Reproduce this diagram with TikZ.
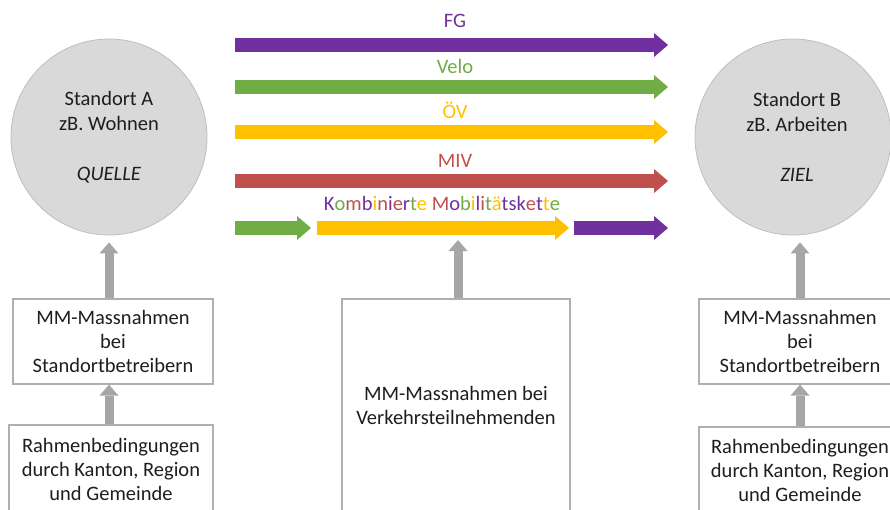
\documentclass[tikz,border=0pt]{standalone}
\usepackage{fontspec}
\setmainfont{Carlito}
\usetikzlibrary{arrows.meta}

\definecolor{fgpurple}{HTML}{7030A0}
\definecolor{velogreen}{HTML}{70AD47}
\definecolor{ovyellow}{HTML}{FFC000}
\definecolor{mivred}{HTML}{C0504D}
\definecolor{placegray}{HTML}{D9D9D9}
\definecolor{rimgray}{HTML}{BFBFBF}
\definecolor{liftgray}{HTML}{A6A6A6}
\definecolor{boxgray}{HTML}{AFAFAF}
\definecolor{inkgray}{HTML}{1E1E1E}

% one colour per letter of the combined-chain label
\newcommand\lP[1]{\textcolor{fgpurple}{#1}}
\newcommand\lG[1]{\textcolor{velogreen}{#1}}
\newcommand\lR[1]{\textcolor{mivred}{#1}}
\newcommand\lY[1]{\textcolor{ovyellow}{#1}}

\begin{document}
\begin{tikzpicture}[x=1pt,y=-1pt,
  place/.style={circle, fill=placegray, draw=rimgray, line width=0.8pt,
    minimum size=196pt, inner sep=0pt, align=center, text=inkgray,
    font=\fontsize{20.5}{25}\selectfont},
  measure/.style={rectangle, draw=boxgray, line width=1.2pt, fill=white,
    inner sep=0pt, align=center, text=inkgray,
    font=\fontsize{20.5}{24}\selectfont},
  mode/.style={line width=14pt,
    -{Triangle[width=24pt,length=14pt,line width=0pt]}},
  lift/.style={draw=liftgray, line width=9pt,
    -{Triangle[width=19pt,length=11pt,line width=0pt]}},
  modelabel/.style={anchor=base, font=\fontsize{20.5}{24}\selectfont}]

\useasboundingbox (0,0) rectangle (890,509);

% origin and destination
\node[place] (A) at (109,137) {Standort A\\zB. Wohnen\\[25pt]\textit{QUELLE}};
\node[place] (B) at (793,137) {\hspace*{8pt}Standort B\\\hspace*{8pt}zB. Arbeiten\\[25pt]\hspace*{8pt}\textit{ZIEL}};

% mode arrows between the two places
\coordinate (fgS)  at (235,45);  \coordinate (fgE)  at (668,45);
\coordinate (veS)  at (235,87);  \coordinate (veE)  at (668,87);
\coordinate (ovS)  at (235,132); \coordinate (ovE)  at (668,132);
\coordinate (miS)  at (235,181); \coordinate (miE)  at (668,181);
\coordinate (k1S)  at (235,228); \coordinate (k1E)  at (311,228);
\coordinate (k2S)  at (317,228); \coordinate (k2E)  at (569,228);
\coordinate (k3S)  at (574,228); \coordinate (k3E)  at (668,228);

\draw[mode, draw=fgpurple]  (fgS) -- (fgE);
\draw[mode, draw=velogreen] (veS) -- (veE);
\draw[mode, draw=ovyellow]  (ovS) -- (ovE);
\draw[mode, draw=mivred]    (miS) -- (miE);
\draw[mode, draw=velogreen] (k1S) -- (k1E);
\draw[mode, draw=ovyellow]  (k2S) -- (k2E);
\draw[mode, draw=fgpurple]  (k3S) -- (k3E);

\node[modelabel, text=fgpurple]  (fgL) at (455,27)  {FG};
\node[modelabel, text=velogreen] (veL) at (455,73)  {Velo};
\node[modelabel, text=ovyellow]  (ovL) at (455,118) {ÖV};
\node[modelabel, text=mivred]    (miL) at (455,167) {MIV};
\node[modelabel] (kL) at (442,210)
  {\lP{K}\lG{o}\lR{m}\lP{b}\lY{i}\lR{n}\lP{i}\lR{e}\lP{r}\lG{t}\lY{e}
   \lR{M}\lP{o}\lG{b}\lY{i}\lP{l}\lR{i}\lG{t}\lY{ä}\lP{t}\lP{s}\lP{k}\lR{e}\lP{t}\lY{t}\lG{e}};

% measures
\node[measure, minimum width=200pt, minimum height=85pt] (lmm) at (113,341.5)
  {MM-Massnahmen\\bei\\Standortbetreibern};
\node[measure, minimum width=204pt, minimum height=88pt] (lrule) at (111,469)
  {Rahmenbedingungen\\durch Kanton, Region\\und Gemeinde};
\node[measure, minimum width=228pt, minimum height=212pt] (mid) at (456,405)
  {MM-Massnahmen bei\\Verkehrsteilnehmenden};
\node[measure, minimum width=202pt, minimum height=85pt] (rmm) at (800,341.5)
  {MM-Massnahmen\\bei\\Standortbetreibern};
\node[measure, minimum width=202pt, minimum height=86pt] (rrule) at (800,470)
  {Rahmenbedingungen\\durch Kanton, Region\\und Gemeinde};

% influence arrows
\coordinate (chain) at (458,240);
\draw[lift] (lmm.north -| A) -- ([yshift=-7pt]A.south);
\draw[lift] (lrule.north -| A) -- (lmm.south -| A);
\draw[lift] (mid.north -| chain) -- (chain);
\draw[lift] (rmm.north) -- ([yshift=-7pt]B.south -| rmm.north);
\draw[lift] (rrule.north) -- (rmm.south);
\end{tikzpicture}
\end{document}
